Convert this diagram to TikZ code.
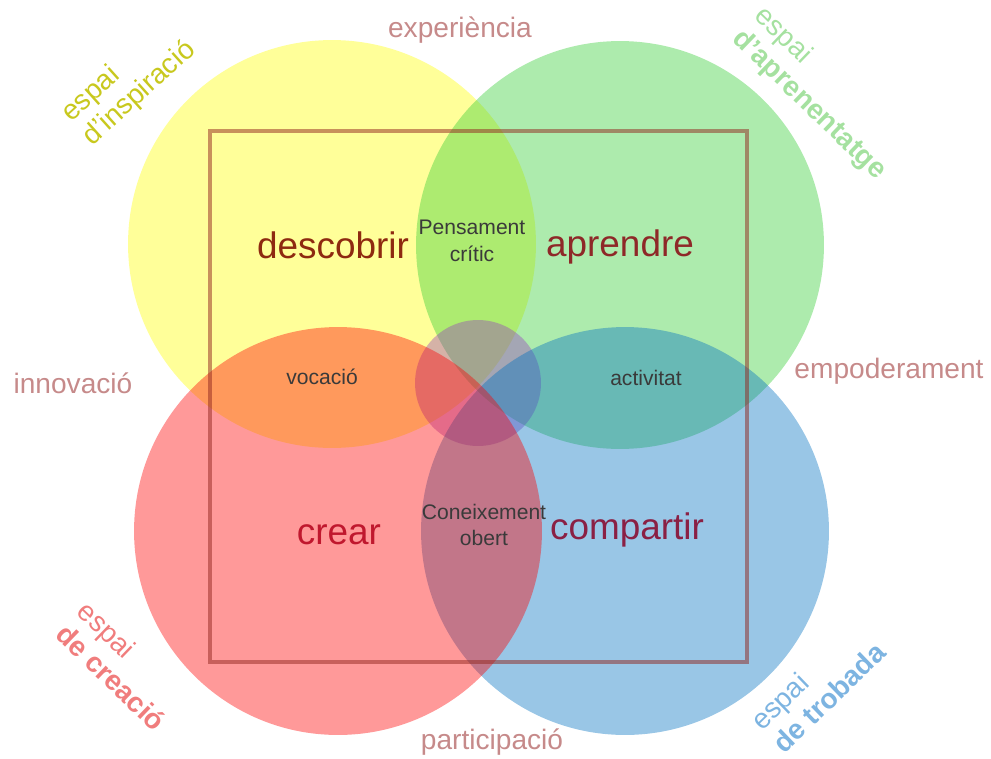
\documentclass[tikz,border=0pt]{standalone}
\usepackage{fontspec}
\setmainfont{Liberation Sans}
\definecolor{cyel}{RGB}{255,255,0}
\definecolor{cgrn}{RGB}{51,204,51}
\definecolor{cred}{RGB}{255,0,0}
\definecolor{cblu}{RGB}{0,112,192}
\definecolor{cmid}{RGB}{150,62,190}
\definecolor{csq}{RGB}{145,38,30}
\definecolor{outer}{RGB}{198,138,138}
\definecolor{smalltxt}{RGB}{58,58,58}
\definecolor{lyel}{RGB}{200,200,30}
\definecolor{lgrn}{RGB}{165,225,160}
\definecolor{lred}{RGB}{240,125,125}
\definecolor{lblu}{RGB}{125,180,225}
\definecolor{wdesc}{RGB}{142,42,16}
\definecolor{wapre}{RGB}{142,40,40}
\definecolor{wcrea}{RGB}{192,24,46}
\definecolor{wcomp}{RGB}{138,32,68}
\tikzset{
  venn/.style={fill opacity=0.4},
  bigword/.style={font=\fontsize{21pt}{25pt}\selectfont, inner sep=0pt},
  smallword/.style={font=\fontsize{12pt}{15pt}\selectfont, text=smalltxt, align=center, inner sep=0pt},
  outerword/.style={font=\fontsize{16pt}{19pt}\selectfont, text=outer, inner sep=0pt},
  espai/.style={font=\fontsize{16pt}{18pt}\selectfont, align=left, inner sep=0pt}
}
\begin{document}
\begin{tikzpicture}[x=0.02cm,y=-0.02cm]
\useasboundingbox (0,0) rectangle (991,758);
% circles
\fill[cyel, venn] (332,244) circle[radius=4.08cm];
\fill[cgrn, venn] (620,245) circle[radius=4.08cm];
\fill[cmid, venn] (478,383) circle[radius=1.26cm];
\fill[cblu, venn] (625,531) circle[radius=4.08cm];
\fill[cred, venn] (338,531) circle[radius=4.08cm];
% square
\draw[csq, draw opacity=0.5, line width=2.3pt] (210,131) rectangle (747,662);
% main words
\node[bigword, text=wdesc] (descobrir) at (333,245) {descobrir};
\node[bigword, text=wapre] (aprendre) at (620,247) {aprendre};
\node[bigword, text=wcrea] (crear) at (339,535) {crear};
\node[bigword, text=wcomp] (compartir) at (627,530) {compartir};
% small words
\node[smallword] (pensament) at (472,241) {Pensament\\crític};
\node[smallword] (vocacio) at (322,377) {vocació};
\node[smallword] (activitat) at (646,378) {activitat};
\node[smallword] (coneixement) at (484,525) {Coneixement\\obert};
% outer words
\node[outerword] (experiencia) at (460,30) {experiència};
\node[outerword] (innovacio) at (73,383) {innovació};
\node[outerword] (empoderament) at (889,371) {empoderament};
\node[outerword] (participacio) at (492,742) {participació};
% rotated espai labels
\node[espai, text=lyel, rotate=42] (inspiracio) at (129,82) {espai\\d’inspiració};
\node[espai, text=lgrn, rotate=-44] (aprenentatge) at (820,94) {espai\\\textbf{d’aprenentatge}};
\node[espai, text=lred, rotate=-44] (creacio) at (122,666) {espai\\\textbf{de creació}};
\node[espai, text=lblu, rotate=44] (trobada) at (818,686) {espai\\\textbf{de trobada}};
\end{tikzpicture}
\end{document}
